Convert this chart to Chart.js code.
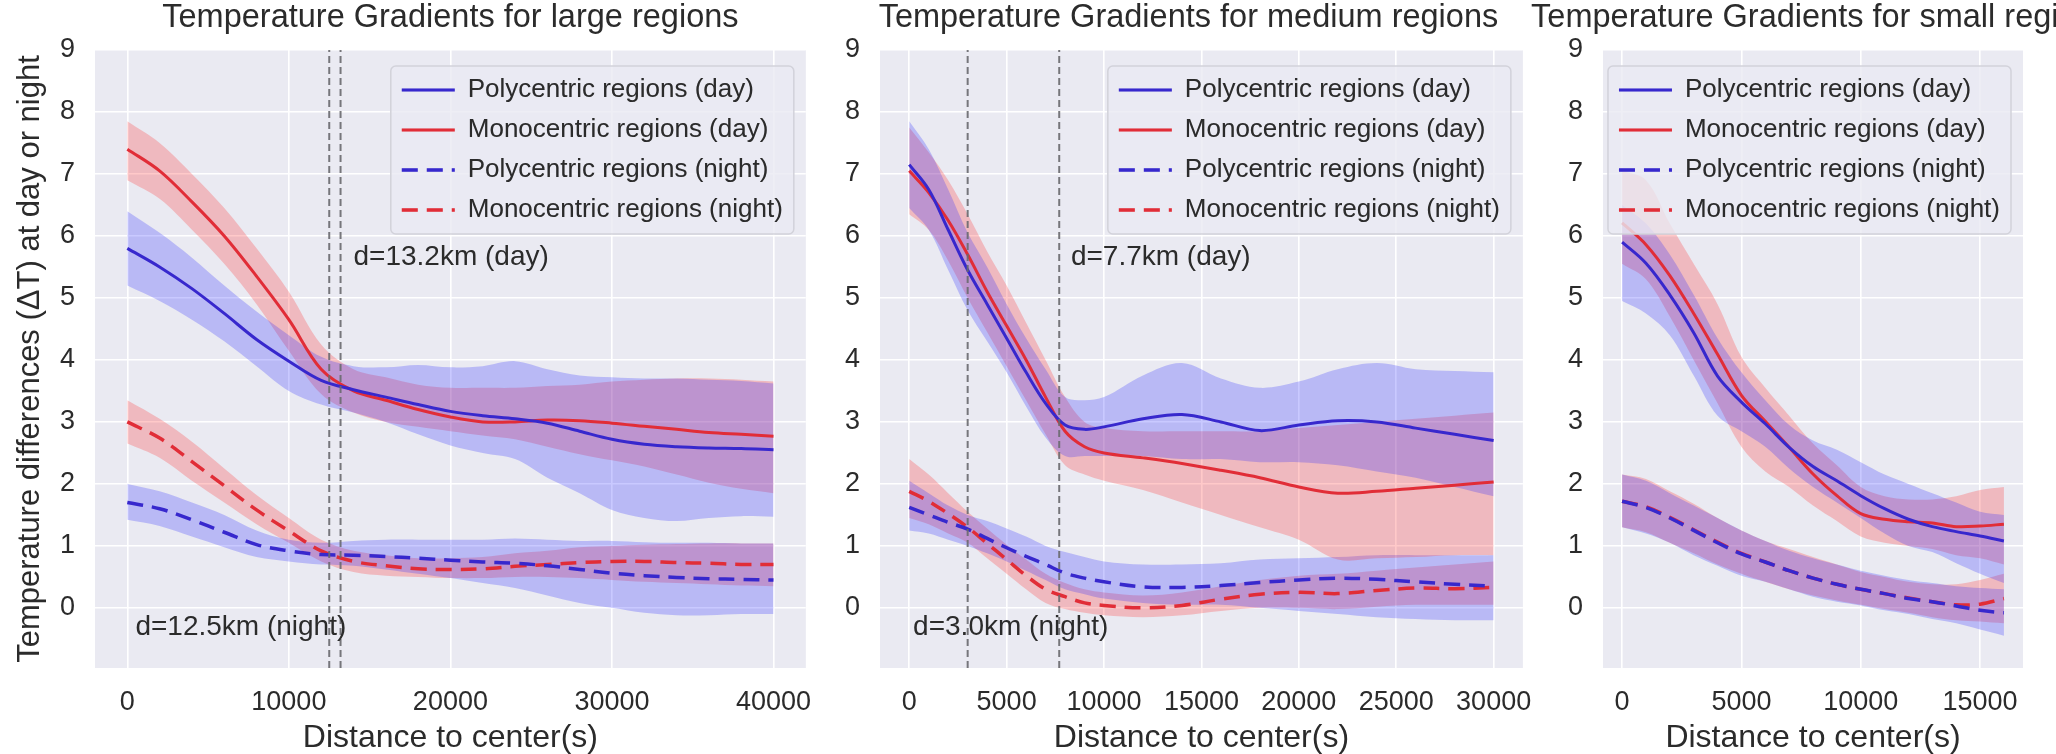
<!DOCTYPE html>
<html>
<head>
<meta charset="utf-8">
<title>Temperature Gradients</title>
<script src="https://cdn.jsdelivr.net/npm/chart.js@4.4.0/dist/chart.umd.min.js"></script>
<style>
  html, body { margin: 0; padding: 0; background: #fff; overflow: hidden; }
  #wrap { position: relative; width: 2056px; height: 754px; }
  canvas { position: absolute; top: 0; }
</style>
</head>
<body>
<div id="wrap">
  <canvas id="large" width="830" height="754" style="left:0px"></canvas>
  <canvas id="medium" width="730" height="754" style="left:820px"></canvas>
  <canvas id="small" width="531" height="754" style="left:1525px"></canvas>
</div>
<script>
// series names (same in every panel)
const SERIES = ['Polycentric regions (day)', 'Monocentric regions (day)', 'Polycentric regions (night)', 'Monocentric regions (night)'];
const Y_TICKS = [0, 1, 2, 3, 4, 5, 6, 7, 8, 9];
const Y_MIN = -0.97;
const Y_MAX = 9;

// large regions
const LARGE_X = [0, 2000, 4000, 6000, 8000, 10000, 12000, 14000, 16000, 18000, 20000, 22000, 24000, 26000, 28000, 30000, 32000, 34000, 36000, 38000, 40000];
const LARGE_X_TICKS = [0, 10000, 20000, 30000, 40000];
const LARGE_POLY_DAY = [5.8, 5.5, 5.15, 4.75, 4.33, 3.98, 3.67, 3.52, 3.4, 3.28, 3.17, 3.1, 3.05, 2.98, 2.85, 2.72, 2.64, 2.6, 2.58, 2.57, 2.55];
const LARGE_POLY_DAY_LO = [5.2, 4.95, 4.65, 4.3, 3.9, 3.5, 3.28, 3.15, 3.0, 2.8, 2.62, 2.5, 2.4, 2.1, 1.85, 1.58, 1.45, 1.4, 1.45, 1.48, 1.47];
const LARGE_POLY_DAY_HI = [6.4, 6.05, 5.65, 5.2, 4.78, 4.4, 4.05, 3.9, 3.88, 3.92, 3.88, 3.9, 3.98, 3.85, 3.75, 3.72, 3.7, 3.7, 3.68, 3.66, 3.62];
const LARGE_MONO_DAY = [7.4, 7.05, 6.55, 6.0, 5.35, 4.65, 3.85, 3.5, 3.35, 3.2, 3.08, 3.0, 3.0, 3.03, 3.02, 2.98, 2.93, 2.88, 2.83, 2.8, 2.77];
const LARGE_MONO_DAY_LO = [6.9, 6.6, 6.1, 5.55, 4.9, 4.15, 3.45, 3.15, 3.0, 2.92, 2.85, 2.78, 2.72, 2.6, 2.48, 2.38, 2.28, 2.15, 2.02, 1.92, 1.85];
const LARGE_MONO_DAY_HI = [7.85, 7.5, 7.0, 6.45, 5.8, 5.1, 4.25, 3.85, 3.72, 3.6, 3.55, 3.55, 3.55, 3.58, 3.6, 3.65, 3.68, 3.7, 3.7, 3.68, 3.65];
const LARGE_POLY_NIGHT = [1.7, 1.6, 1.42, 1.22, 1.02, 0.92, 0.86, 0.85, 0.83, 0.8, 0.77, 0.74, 0.72, 0.68, 0.62, 0.56, 0.52, 0.49, 0.47, 0.46, 0.45];
const LARGE_POLY_NIGHT_LO = [1.42, 1.32, 1.15, 0.98, 0.82, 0.75, 0.7, 0.68, 0.62, 0.55, 0.48, 0.4, 0.32, 0.2, 0.08, 0.0, -0.08, -0.12, -0.12, -0.1, -0.1];
const LARGE_POLY_NIGHT_HI = [2.0, 1.88, 1.7, 1.5, 1.25, 1.1, 1.05, 1.08, 1.1, 1.1, 1.1, 1.1, 1.12, 1.1, 1.08, 1.08, 1.06, 1.05, 1.05, 1.04, 1.04];
const LARGE_MONO_NIGHT = [3.0, 2.74, 2.36, 1.97, 1.58, 1.24, 0.92, 0.75, 0.68, 0.63, 0.62, 0.63, 0.67, 0.7, 0.73, 0.75, 0.75, 0.73, 0.72, 0.7, 0.7];
const LARGE_MONO_NIGHT_LO = [2.65, 2.42, 2.05, 1.7, 1.35, 1.05, 0.75, 0.58, 0.52, 0.5, 0.48, 0.48, 0.5, 0.5, 0.48, 0.45, 0.42, 0.4, 0.38, 0.36, 0.35];
const LARGE_MONO_NIGHT_HI = [3.35, 3.05, 2.68, 2.25, 1.82, 1.45, 1.1, 0.92, 0.85, 0.8, 0.8, 0.82, 0.88, 0.92, 0.98, 1.0, 1.02, 1.03, 1.04, 1.04, 1.04];
const LARGE_CUTOFFS = [12500, 13200];
const LARGE_NOTES = ['d=12.5km (night)', 'd=13.2km (day)'];
const LARGE_NOTE_X = [500, 14000];

// medium regions
const MEDIUM_X = [0, 1000, 2000, 3000, 4000, 5000, 6000, 7000, 8000, 9000, 10000, 12000, 14000, 16000, 18000, 20000, 22000, 24000, 26000, 28000, 30000];
const MEDIUM_X_TICKS = [0, 5000, 10000, 15000, 20000, 25000, 30000];
const MEDIUM_POLY_DAY = [7.15, 6.75, 6.1, 5.45, 4.9, 4.35, 3.8, 3.3, 2.95, 2.88, 2.92, 3.05, 3.12, 3.0, 2.86, 2.95, 3.02, 3.0, 2.9, 2.8, 2.7];
const MEDIUM_POLY_DAY_LO = [6.45, 6.1, 5.45, 4.8, 4.3, 3.8, 3.25, 2.75, 2.45, 2.45, 2.45, 2.45, 2.4, 2.4, 2.35, 2.35, 2.3, 2.2, 2.1, 1.95, 1.8];
const MEDIUM_POLY_DAY_HI = [7.85, 7.4, 6.75, 6.05, 5.5, 4.9, 4.35, 3.85, 3.4, 3.35, 3.4, 3.75, 3.95, 3.7, 3.55, 3.65, 3.85, 3.95, 3.85, 3.82, 3.8];
const MEDIUM_MONO_DAY = [7.05, 6.7, 6.25, 5.7, 5.1, 4.55, 4.0, 3.4, 2.85, 2.6, 2.5, 2.42, 2.33, 2.22, 2.1, 1.95, 1.85, 1.88, 1.93, 1.98, 2.03];
const MEDIUM_MONO_DAY_LO = [6.35, 6.1, 5.6, 5.0, 4.45, 3.9, 3.35, 2.8, 2.3, 2.15, 2.05, 1.9, 1.7, 1.5, 1.3, 1.1, 0.78, 0.8, 0.82, 0.85, 0.85];
const MEDIUM_MONO_DAY_HI = [7.75, 7.35, 6.9, 6.35, 5.75, 5.2, 4.6, 4.0, 3.4, 3.0, 2.9, 2.85, 2.85, 2.85, 2.85, 2.9, 2.95, 3.0, 3.05, 3.1, 3.15];
const MEDIUM_POLY_NIGHT = [1.62, 1.5, 1.38, 1.27, 1.12, 0.97, 0.83, 0.7, 0.56, 0.48, 0.42, 0.34, 0.33, 0.36, 0.41, 0.45, 0.48, 0.46, 0.42, 0.38, 0.35];
const MEDIUM_POLY_NIGHT_LO = [1.25, 1.2, 1.1, 1.0, 0.88, 0.75, 0.6, 0.45, 0.3, 0.22, 0.15, 0.08, 0.05, 0.05, 0.0, -0.05, -0.1, -0.15, -0.18, -0.2, -0.2];
const MEDIUM_POLY_NIGHT_HI = [2.05, 1.85, 1.65, 1.5, 1.4, 1.28, 1.15, 1.0, 0.9, 0.82, 0.75, 0.7, 0.7, 0.72, 0.78, 0.8, 0.82, 0.85, 0.85, 0.85, 0.85];
const MEDIUM_MONO_NIGHT = [1.88, 1.72, 1.52, 1.3, 1.04, 0.78, 0.52, 0.3, 0.18, 0.08, 0.04, 0.0, 0.04, 0.14, 0.22, 0.25, 0.23, 0.28, 0.32, 0.31, 0.33];
const MEDIUM_MONO_NIGHT_LO = [1.45, 1.35, 1.2, 1.05, 0.8, 0.55, 0.3, 0.08, -0.02, -0.08, -0.12, -0.15, -0.12, -0.05, 0.0, 0.0, -0.02, 0.02, 0.05, 0.05, 0.05];
const MEDIUM_MONO_NIGHT_HI = [2.4, 2.15, 1.85, 1.55, 1.28, 1.02, 0.78, 0.55, 0.4, 0.3, 0.25, 0.2, 0.25, 0.35, 0.45, 0.52, 0.55, 0.6, 0.65, 0.7, 0.75];
const MEDIUM_CUTOFFS = [3000, 7700];
const MEDIUM_NOTES = ['d=3.0km (night)', 'd=7.7km (day)'];
const MEDIUM_NOTE_X = [200, 8300];

// small regions
const SMALL_X = [0, 1000, 2000, 3000, 4000, 5000, 6000, 7000, 8000, 9000, 10000, 11000, 12000, 13000, 14000, 15000, 16000];
const SMALL_X_TICKS = [0, 5000, 10000, 15000];
const SMALL_POLY_DAY = [5.9, 5.56, 5.05, 4.44, 3.74, 3.32, 2.97, 2.59, 2.28, 2.05, 1.81, 1.6, 1.43, 1.31, 1.23, 1.16, 1.08];
const SMALL_POLY_DAY_LO = [4.95, 4.75, 4.4, 3.75, 3.1, 2.85, 2.6, 2.25, 1.95, 1.7, 1.45, 1.2, 1.0, 0.9, 0.72, 0.55, 0.4];
const SMALL_POLY_DAY_HI = [6.5, 6.2, 5.7, 5.05, 4.35, 3.8, 3.35, 2.95, 2.7, 2.55, 2.35, 2.15, 2.0, 1.85, 1.7, 1.55, 1.5];
const SMALL_MONO_DAY = [6.21, 5.86, 5.36, 4.75, 4.09, 3.43, 3.01, 2.59, 2.16, 1.81, 1.52, 1.43, 1.39, 1.37, 1.31, 1.32, 1.35];
const SMALL_MONO_DAY_LO = [5.55, 5.3, 4.7, 4.0, 3.3, 2.6, 2.2, 1.95, 1.65, 1.4, 1.15, 1.05, 1.0, 0.95, 0.85, 0.8, 0.7];
const SMALL_MONO_DAY_HI = [7.05, 6.9, 6.2, 5.55, 4.9, 4.05, 3.55, 3.1, 2.65, 2.3, 1.95, 1.8, 1.75, 1.75, 1.8, 1.9, 1.95];
const SMALL_POLY_NIGHT = [1.72, 1.62, 1.45, 1.25, 1.05, 0.87, 0.74, 0.6, 0.48, 0.38, 0.3, 0.23, 0.15, 0.1, 0.03, -0.04, -0.08];
const SMALL_POLY_NIGHT_LO = [1.3, 1.2, 1.05, 0.85, 0.68, 0.52, 0.42, 0.3, 0.18, 0.1, 0.04, -0.04, -0.1, -0.18, -0.25, -0.35, -0.45];
const SMALL_POLY_NIGHT_HI = [2.15, 2.05, 1.85, 1.65, 1.45, 1.25, 1.08, 0.92, 0.8, 0.7, 0.6, 0.52, 0.45, 0.4, 0.35, 0.32, 0.3];
const SMALL_MONO_NIGHT = [1.72, 1.63, 1.46, 1.26, 1.06, 0.88, 0.74, 0.6, 0.48, 0.38, 0.3, 0.23, 0.16, 0.1, 0.05, 0.06, 0.15];
const SMALL_MONO_NIGHT_LO = [1.3, 1.22, 1.05, 0.88, 0.7, 0.55, 0.42, 0.3, 0.2, 0.12, 0.05, -0.02, -0.08, -0.15, -0.2, -0.22, -0.25];
const SMALL_MONO_NIGHT_HI = [2.15, 2.08, 1.88, 1.68, 1.45, 1.25, 1.08, 0.95, 0.82, 0.7, 0.58, 0.5, 0.42, 0.38, 0.38, 0.45, 0.55];

// where the "d=..." notes sit vertically (night, day)
const NOTE_Y = [-0.32, 5.65];

const FONT = "'Liberation Sans', Arial, sans-serif";
const TEXT = '#2b2b2b';
const POLY_LINE = 'rgb(55, 40, 205)';
const MONO_LINE = 'rgb(225, 45, 55)';
const POLY_BAND = 'rgba(40, 40, 255, 0.25)';
const MONO_BAND = 'rgba(255, 40, 40, 0.25)';

Chart.defaults.font.family = FONT;
Chart.defaults.color = TEXT;

function pts(xs, ys) {
  return xs.map((x, i) => ({ x: x, y: ys[i] }));
}

// grey plot background like seaborn darkgrid
const plotBg = {
  id: 'plotBg',
  beforeDraw(chart) {
    const ca = chart.chartArea;
    const ctx = chart.ctx;
    ctx.save();
    ctx.fillStyle = '#eaeaf2';
    ctx.fillRect(ca.left, ca.top, ca.right - ca.left, ca.bottom - ca.top);
    ctx.restore();
  }
};

// put legend top right inside the plot, draw a frame and draw it again over the bands
const legendBox = {
  id: 'legendBox',
  afterLayout(chart) {
    const lg = chart.legend;
    if (!lg || !lg.columnSizes || !lg.columnSizes.length) return;
    const ca = chart.chartArea;
    const pad = lg.options.labels.padding;
    const colW = lg.columnSizes[0].width;
    lg.left = ca.right - 23 - colW - pad;
    lg.top = ca.top + 27 - pad;
    lg.right = ca.right;
    lg.bottom = ca.bottom;
    lg.width = lg.right - lg.left;
    lg.height = lg.bottom - lg.top;
  },
  afterDatasetsDraw(chart) {
    const lg = chart.legend;
    const boxes = lg.legendHitBoxes;
    if (!boxes || !boxes.length) return;
    const ctx = chart.ctx;
    const l = Math.min(...boxes.map(b => b.left)) - 11;
    const r = Math.max(...boxes.map(b => b.left + b.width)) + 11;
    const t = boxes[0].top - 11;
    const last = boxes[boxes.length - 1];
    const b = last.top + last.height + 11;
    ctx.save();
    ctx.beginPath();
    ctx.roundRect(l, t, r - l, b - t, 5);
    ctx.fillStyle = 'rgba(234, 234, 242, 0.8)';
    ctx.fill();
    ctx.lineWidth = 1.5;
    ctx.strokeStyle = '#d2d2da';
    ctx.stroke();
    ctx.restore();
    lg.draw();
  }
};

// panel title and the d=... notes
const panelText = {
  id: 'panelText',
  afterDraw(chart, args, opts) {
    const ctx = chart.ctx;
    const ca = chart.chartArea;
    const xs = chart.scales.x;
    const ys = chart.scales.y;
    ctx.save();
    ctx.fillStyle = TEXT;
    ctx.textBaseline = 'middle';
    ctx.textAlign = 'left';
    ctx.font = '28px ' + FONT;
    opts.notes.forEach((txt, i) => {
      ctx.fillText(txt, xs.getPixelForValue(opts.noteX[i]), ys.getPixelForValue(NOTE_Y[i]));
    });
    ctx.textAlign = 'center';
    ctx.font = '32.5px ' + FONT;
    ctx.fillText(opts.title, (ca.left + ca.right) / 2 + opts.shift, 18);
    ctx.restore();
  }
};

// legend samples take dash / width from the dataset line
function legendLabels(chart) {
  const items = Chart.defaults.plugins.legend.labels.generateLabels(chart);
  return items.map(item => {
    const ds = chart.data.datasets[item.datasetIndex];
    item.lineDash = ds.borderDash || [];
    item.lineWidth = ds.borderWidth;
    item.strokeStyle = ds.borderColor;
    return item;
  });
}

function makePanel(p) {
  const datasets = [];
  const lines = [p.polyDay, p.monoDay, p.polyNight, p.monoNight];
  const los = [p.polyDayLo, p.monoDayLo, p.polyNightLo, p.monoNightLo];
  const his = [p.polyDayHi, p.monoDayHi, p.polyNightHi, p.monoNightHi];

  // bands first (drawn underneath)
  for (let i = 0; i < 4; i++) {
    const poly = i % 2 === 0;
    datasets.push({
      data: pts(p.x, los[i]),
      borderWidth: 0, pointRadius: 0, fill: false, tension: 0.35, order: 2
    });
    datasets.push({
      data: pts(p.x, his[i]),
      borderWidth: 0, pointRadius: 0, fill: '-1', tension: 0.35, order: 2,
      backgroundColor: poly ? POLY_BAND : MONO_BAND
    });
  }

  for (let i = 0; i < 4; i++) {
    const poly = i % 2 === 0;
    const night = i >= 2;
    datasets.push({
      label: SERIES[i],
      data: pts(p.x, lines[i]),
      borderColor: poly ? POLY_LINE : MONO_LINE,
      backgroundColor: poly ? POLY_LINE : MONO_LINE,
      borderWidth: night ? 3.5 : 3,
      borderDash: night ? [16, 9] : [],
      pointRadius: 0, fill: false, tension: 0.35, order: 1
    });
  }

  // vertical dashed cut-off lines
  p.cutoffs.forEach(c => {
    datasets.push({
      data: [{ x: c, y: Y_MIN }, { x: c, y: Y_MAX }],
      borderColor: 'rgba(105, 105, 110, 0.9)',
      borderWidth: 2,
      borderDash: [7, 4],
      pointRadius: 0, fill: false, order: 0
    });
  });

  return new Chart(document.getElementById(p.id), {
    type: 'line',
    data: { datasets: datasets },
    options: {
      responsive: false,
      animation: false,
      events: [],
      layout: { padding: { top: 50, right: p.rightPad, left: 0, bottom: 0 } },
      scales: {
        x: {
          type: 'linear',
          min: p.xMin,
          max: p.xMax,
          afterBuildTicks: s => { s.ticks = p.xTicks.map(v => ({ value: v })); },
          afterFit: s => { s.height = 86; },
          ticks: {
            font: { size: 27 }, padding: 18, maxRotation: 0, autoSkip: false,
            callback: v => String(v)
          },
          grid: { color: '#ffffff', lineWidth: 1.6, drawTicks: false },
          border: { display: false },
          title: {
            display: true, text: 'Distance to center(s)',
            font: { size: 32, lineHeight: 1 }, padding: 0
          }
        },
        y: {
          type: 'linear',
          min: Y_MIN,
          max: Y_MAX,
          afterBuildTicks: s => { s.ticks = Y_TICKS.map(v => ({ value: v })); },
          afterFit: s => { s.width = p.yWidth; },
          ticks: { font: { size: 27 }, padding: 20, autoSkip: false, callback: v => String(v) },
          grid: { color: '#ffffff', lineWidth: 1.6, drawTicks: false },
          border: { display: false },
          title: {
            display: p.yTitle,
            text: 'Temperature differences (\u0394T) at day or night',
            font: { size: 31, lineHeight: 1.2 },
            padding: { top: 12, bottom: 0 }
          }
        }
      },
      plugins: {
        tooltip: { enabled: false },
        legend: {
          position: 'chartArea',
          align: 'start',
          labels: {
            usePointStyle: true,
            pointStyle: 'line',
            pointStyleWidth: 53,
            font: { size: 26 },
            color: TEXT,
            padding: 14,
            generateLabels: legendLabels,
            filter: item => !!item.text
          }
        },
        panelText: { title: p.title, notes: p.notes, noteX: p.noteX, shift: p.titleShift }
      }
    },
    plugins: [plotBg, legendBox, panelText]
  });
}

makePanel({
  id: 'large', title: 'Temperature Gradients for large regions',
  x: LARGE_X, xTicks: LARGE_X_TICKS, xMin: -2000, xMax: 42000,
  polyDay: LARGE_POLY_DAY, polyDayLo: LARGE_POLY_DAY_LO, polyDayHi: LARGE_POLY_DAY_HI,
  monoDay: LARGE_MONO_DAY, monoDayLo: LARGE_MONO_DAY_LO, monoDayHi: LARGE_MONO_DAY_HI,
  polyNight: LARGE_POLY_NIGHT, polyNightLo: LARGE_POLY_NIGHT_LO, polyNightHi: LARGE_POLY_NIGHT_HI,
  monoNight: LARGE_MONO_NIGHT, monoNightLo: LARGE_MONO_NIGHT_LO, monoNightHi: LARGE_MONO_NIGHT_HI,
  cutoffs: LARGE_CUTOFFS, notes: LARGE_NOTES, noteX: LARGE_NOTE_X,
  yWidth: 95, rightPad: 21, yTitle: true, titleShift: 0
});

makePanel({
  id: 'medium', title: 'Temperature Gradients for medium regions',
  x: MEDIUM_X, xTicks: MEDIUM_X_TICKS, xMin: -1500, xMax: 31500,
  polyDay: MEDIUM_POLY_DAY, polyDayLo: MEDIUM_POLY_DAY_LO, polyDayHi: MEDIUM_POLY_DAY_HI,
  monoDay: MEDIUM_MONO_DAY, monoDayLo: MEDIUM_MONO_DAY_LO, monoDayHi: MEDIUM_MONO_DAY_HI,
  polyNight: MEDIUM_POLY_NIGHT, polyNightLo: MEDIUM_POLY_NIGHT_LO, polyNightHi: MEDIUM_POLY_NIGHT_HI,
  monoNight: MEDIUM_MONO_NIGHT, monoNightLo: MEDIUM_MONO_NIGHT_LO, monoNightHi: MEDIUM_MONO_NIGHT_HI,
  cutoffs: MEDIUM_CUTOFFS, notes: MEDIUM_NOTES, noteX: MEDIUM_NOTE_X,
  yWidth: 60, rightPad: 18, yTitle: false, titleShift: -13
});

makePanel({
  id: 'small', title: 'Temperature Gradients for small regions',
  x: SMALL_X, xTicks: SMALL_X_TICKS, xMin: -800, xMax: 16800,
  polyDay: SMALL_POLY_DAY, polyDayLo: SMALL_POLY_DAY_LO, polyDayHi: SMALL_POLY_DAY_HI,
  monoDay: SMALL_MONO_DAY, monoDayLo: SMALL_MONO_DAY_LO, monoDayHi: SMALL_MONO_DAY_HI,
  polyNight: SMALL_POLY_NIGHT, polyNightLo: SMALL_POLY_NIGHT_LO, polyNightHi: SMALL_POLY_NIGHT_HI,
  monoNight: SMALL_MONO_NIGHT, monoNightLo: SMALL_MONO_NIGHT_LO, monoNightHi: SMALL_MONO_NIGHT_HI,
  cutoffs: [], notes: [], noteX: [],
  yWidth: 78, rightPad: 33, yTitle: false, titleShift: 8
});
</script>
</body>
</html>
